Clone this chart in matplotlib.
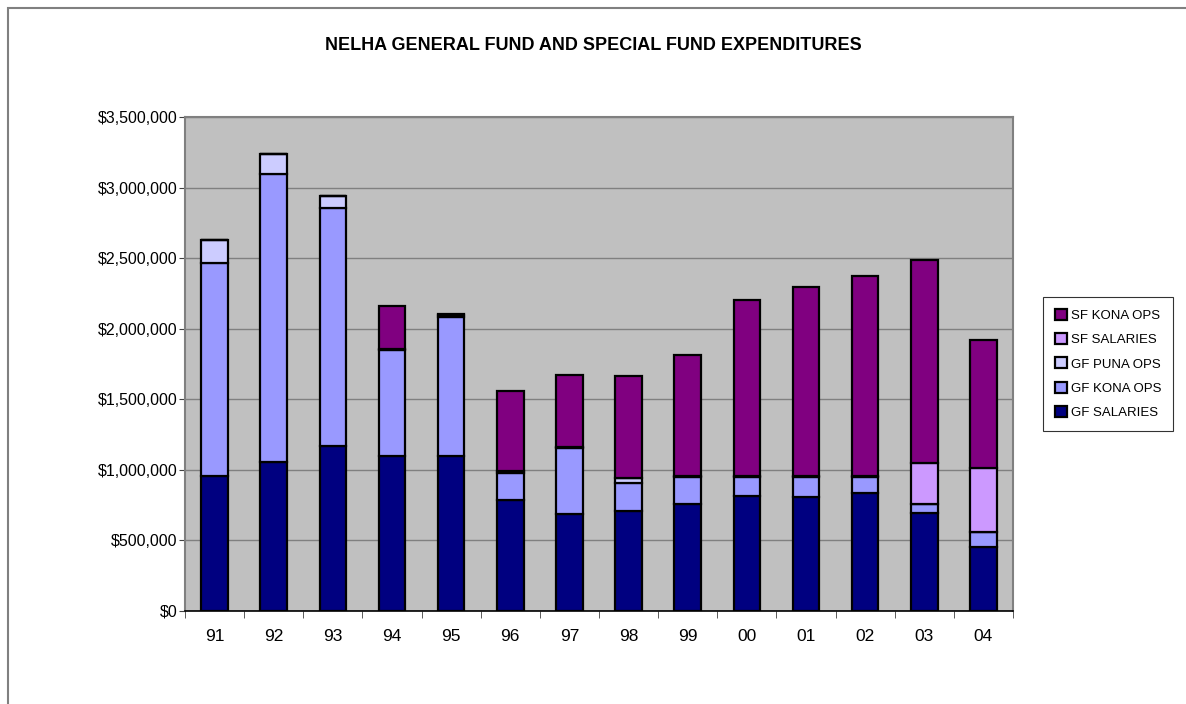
#!/usr/bin/python3

import matplotlib
matplotlib.use('Agg')

import matplotlib.pyplot as plt
import numpy as np
from matplotlib.patches import Rectangle
from matplotlib.ticker import FuncFormatter, MultipleLocator, FixedLocator

years = ['91', '92', '93', '94', '95', '96', '97', '98', '99', '00', '01', '02', '03', '04']

gf_salaries = [956000, 1053000, 1171000, 1098000, 1098000, 786000, 685000, 708000, 755000, 814000, 810000, 833000, 696000, 455000]
gf_kona_ops = [1511000, 2040000, 1681000, 750000, 982000, 189000, 467000, 196000, 191000, 132000, 141000, 118000, 60000, 102000]
gf_puna_ops = [160000, 144000, 89000, 8000, 15000, 15000, 10000, 40000, 10000, 8000, 8000, 8000, 0, 0]
sf_salaries = [0, 0, 0, 0, 0, 0, 0, 0, 0, 0, 0, 0, 294000, 453000]
sf_kona_ops = [0, 0, 0, 305000, 6000, 570000, 512000, 720000, 855000, 1251000, 1334000, 1417000, 1436000, 909000]

series = [
    ('GF SALARIES', gf_salaries, '#000080'),
    ('GF KONA OPS', gf_kona_ops, '#9999FF'),
    ('GF PUNA OPS', gf_puna_ops, '#CCCCFF'),
    ('SF SALARIES', sf_salaries, '#CC99FF'),
    ('SF KONA OPS', sf_kona_ops, '#800080'),
]

plt.rcParams['font.family'] = ['Liberation Sans', 'DejaVu Sans']

fig = plt.figure(figsize=(11.86, 7.04), dpi=100)
fig.patches.append(Rectangle((7.5 / 1186, -0.1), 1.2, 1 - 8 / 704 + 0.1,
                             transform=fig.transFigure, fill=False,
                             edgecolor='#808080', lw=1.5))

ax = fig.add_axes([185 / 1186, 1 - 611 / 704, (1013 - 185) / 1186, (611 - 117) / 704])
ax.set_facecolor('#C0C0C0')

x = np.arange(len(years))
bottom = np.zeros(len(years))
handles = []
for name, vals, color in series:
    vals = np.array(vals, dtype=float)
    b = ax.bar(x, vals, width=0.45, bottom=bottom, color=color,
               edgecolor='black', linewidth=1.6, label=name, zorder=3)
    handles.append(b)
    bottom += vals

ax.set_xlim(-0.5, len(years) - 0.5)
ax.set_ylim(0, 3500000)
ax.yaxis.set_major_locator(MultipleLocator(500000))
ax.yaxis.set_major_formatter(FuncFormatter(lambda v, p: '${:,.0f}'.format(v)))
ax.grid(axis='y', color='#808080', lw=1, zorder=0)

ax.set_xticks(x)
ax.set_xticklabels(years)
ax.xaxis.set_minor_locator(FixedLocator(np.arange(-0.5, len(years), 1)))
ax.tick_params(axis='x', which='major', length=0, pad=13, labelsize=12.5)
ax.tick_params(axis='x', which='minor', length=5, direction='out', color='#404040')
ax.tick_params(axis='y', length=4, direction='out', labelsize=11.5, pad=1.5, color='#404040')

for s in ax.spines.values():
    s.set_color('#808080')
    s.set_linewidth(1.5)
ax.spines['bottom'].set_color('black')
ax.spines['bottom'].set_linewidth(1.2)

fig.text(593 / 1186, 1 - 45 / 704, 'NELHA GENERAL FUND AND SPECIAL FUND EXPENDITURES',
         ha='center', va='center', fontsize=13, fontweight='bold')

leg = fig.legend(handles[::-1], [s[0] for s in series][::-1],
                 loc='center', bbox_to_anchor=(1108 / 1186, 1 - 364 / 704),
                 fontsize=9.5, frameon=True, fancybox=False, edgecolor='black',
                 handlelength=0.9, handleheight=0.9, handletextpad=0.3,
                 labelspacing=0.85, borderpad=0.9, borderaxespad=0)
leg.get_frame().set_linewidth(0.8)

fig.savefig('out.png', dpi=100)
